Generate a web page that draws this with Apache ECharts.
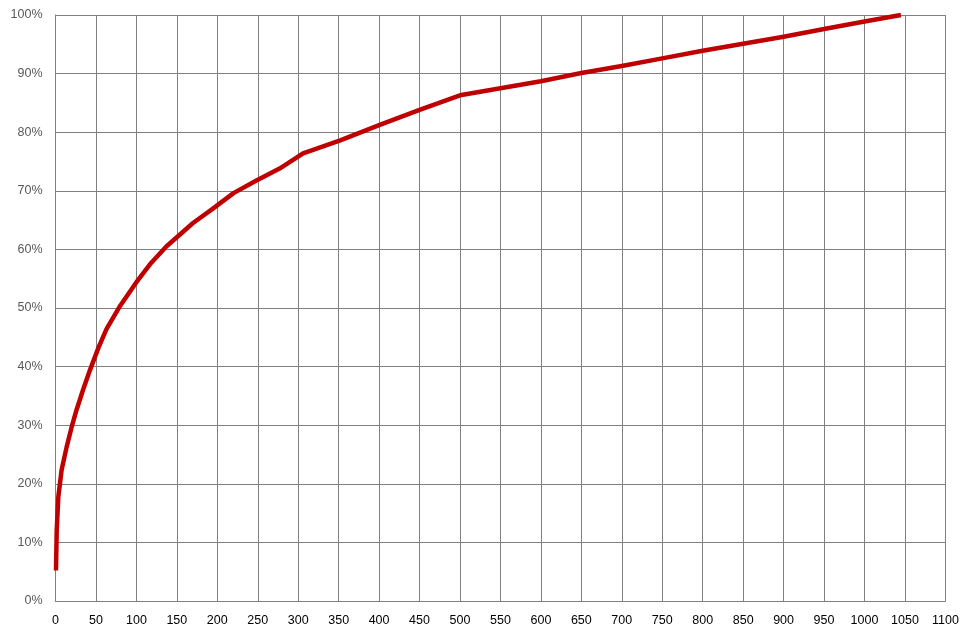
<!DOCTYPE html>
<html>
<head>
<meta charset="utf-8">
<script src="https://cdn.jsdelivr.net/npm/echarts@6/dist/echarts.min.js"></script>
<style>
html,body{margin:0;padding:0;background:#fff;}
#chart{width:975px;height:637px;}
</style>
</head>
<body>
<div id="chart"></div>
<script>
const xValues = [0.6, 1.5, 3.5, 7.6, 13.8, 20, 26, 34, 42.6, 53, 63, 80, 100, 117, 137, 170, 195, 220, 249, 277, 306, 352, 400, 450, 500, 550, 600, 650, 700, 750, 800, 850, 900, 950, 1000, 1045];
const yPercent = [5.2, 12, 17.8, 22.4, 26.3, 29.7, 32.6, 36, 39.4, 43.2, 46.4, 50.4, 54.4, 57.5, 60.5, 64.5, 67, 69.6, 71.8, 73.8, 76.4, 78.6, 81.2, 83.8, 86.3, 87.5, 88.7, 90.1, 91.3, 92.6, 93.9, 95.1, 96.3, 97.6, 98.9, 100];

const data = xValues.map((x, i) => [x, yPercent[i]]);
const chart = echarts.init(document.getElementById('chart'), null, {renderer: 'canvas'});
const font = '"Liberation Sans", Arial, sans-serif';
chart.setOption({
  animation: false,
  backgroundColor: '#ffffff',
  grid: {left: 55.5, right: 29.6, top: 15, bottom: 36, containLabel: false},
  xAxis: {
    type: 'value', min: 0, max: 1100, interval: 50,
    axisLine: {show: true, lineStyle: {color: '#808080', width: 1}},
    axisTick: {show: false},
    splitLine: {show: true, lineStyle: {color: '#808080', width: 1}},
    axisLabel: {color: '#000000', fontFamily: font, fontSize: 12.5, margin: 13, formatter: v => String(v)}
  },
  yAxis: {
    type: 'value', min: 0, max: 100, interval: 10,
    axisLine: {show: true, lineStyle: {color: '#808080', width: 1}},
    axisTick: {show: false},
    splitLine: {show: true, lineStyle: {color: '#808080', width: 1}},
    axisLabel: {color: '#595959', fontFamily: font, fontSize: 12.5, margin: 13, formatter: v => v + '%'}
  },
  series: [{
    type: 'line',
    data: data,
    showSymbol: false,
    smooth: false,
    lineStyle: {color: '#C00000', width: 4.5, join: 'round', cap: 'butt'}
  }]
});
</script>
</body>
</html>
